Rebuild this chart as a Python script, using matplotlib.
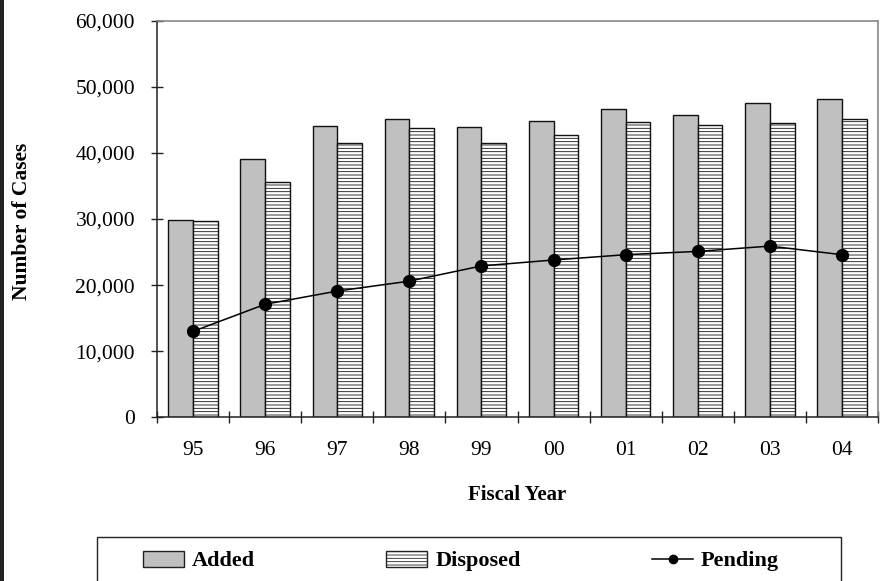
import numpy as np
import matplotlib.pyplot as plt
from matplotlib.lines import Line2D
from matplotlib.patches import Patch, Rectangle

years = ['95', '96', '97', '98', '99', '00', '01', '02', '03', '04']
added = [29900, 39100, 44000, 45100, 43900, 44900, 46700, 45700, 47500, 48200]
disposed = [29700, 35600, 41500, 43700, 41500, 42700, 44700, 44200, 44500, 45200]
pending = [13000, 17100, 19100, 20600, 22900, 23800, 24600, 25100, 25900, 24600]

plt.rcParams['font.family'] = ['Liberation Serif', 'DejaVu Serif']
plt.rcParams['hatch.linewidth'] = 0.6

W, H = 881, 581
fig = plt.figure(figsize=(W / 100, H / 100), dpi=100)
ax = fig.add_axes([157 / W, 1 - 417.3 / H, 721 / W, 396.6 / H])

x = np.arange(len(years))
bw = 0.343
ax.bar(x - bw / 2, added, bw, color='#c0c0c0', edgecolor='#111111', linewidth=1.0)
ax.bar(x + bw / 2, disposed, bw, color='white', edgecolor='#111111',
       linewidth=1.0, hatch='-----')
ax.plot(x, pending, color='black', linewidth=1.1, marker='o', markersize=8.5, zorder=3)

ax.set_xlim(-0.5, len(years) - 0.5)
ax.set_ylim(0, 60000)
ax.set_yticks(np.arange(0, 60001, 10000))
ax.set_yticklabels([f'{v:,}' for v in range(0, 60001, 10000)])
ax.set_xticks(x)
ax.set_xticklabels(years)
ax.set_xticks(np.arange(-0.5, len(years)), minor=True)

ax.tick_params(axis='y', direction='inout', length=8.6, width=1.0, pad=11.5,
               labelsize=15.5, color='#222222')
ax.tick_params(axis='x', which='major', length=0, pad=17, labelsize=15.5)
ax.tick_params(axis='x', which='minor', direction='inout', length=9, width=1.0,
               color='#222222')

for s in ['left', 'bottom']:
    ax.spines[s].set_color('#222222')
    ax.spines[s].set_linewidth(1.1)
for s in ['top', 'right']:
    ax.spines[s].set_color('#888888')
    ax.spines[s].set_linewidth(1.2)

fig.text(22 / W, 1 - 221 / H, 'Number of Cases', rotation=90, ha='center',
         va='center', fontsize=15.5, fontweight='bold')
fig.text(517.5 / W, 1 - 495 / H, 'Fiscal Year', ha='center', va='center',
         fontsize=15, fontweight='bold')

# dark strip at the left edge
fig.patches.append(Rectangle((0, 0), 4 / W, 1, transform=fig.transFigure,
                             facecolor='#222222', edgecolor='none'))
# legend box, running off the bottom
fig.patches.append(Rectangle((97 / W, -0.05), (841 - 97) / W, 0.05 + 1 - 536.7 / H,
                             transform=fig.transFigure, facecolor='none',
                             edgecolor='#222222', linewidth=1.0))

handles = [
    Patch(facecolor='#c0c0c0', edgecolor='#222222', linewidth=1.0),
    Patch(facecolor='white', edgecolor='#222222', linewidth=1.0, hatch='-----'),
    Line2D([], [], color='black', linewidth=1.1, marker='o', markersize=6),
]
leg = fig.legend(handles, ['Added', 'Disposed', 'Pending'], ncol=3,
                 loc='center left', bbox_to_anchor=(143 / W, 1 - 561 / H),
                 frameon=False, borderpad=0, borderaxespad=0,
                 handlelength=1.85, handleheight=0.75, handletextpad=0.36,
                 columnspacing=5.9, prop={'size': 16, 'weight': 'bold'})

fig.savefig('out.png', dpi=100)
